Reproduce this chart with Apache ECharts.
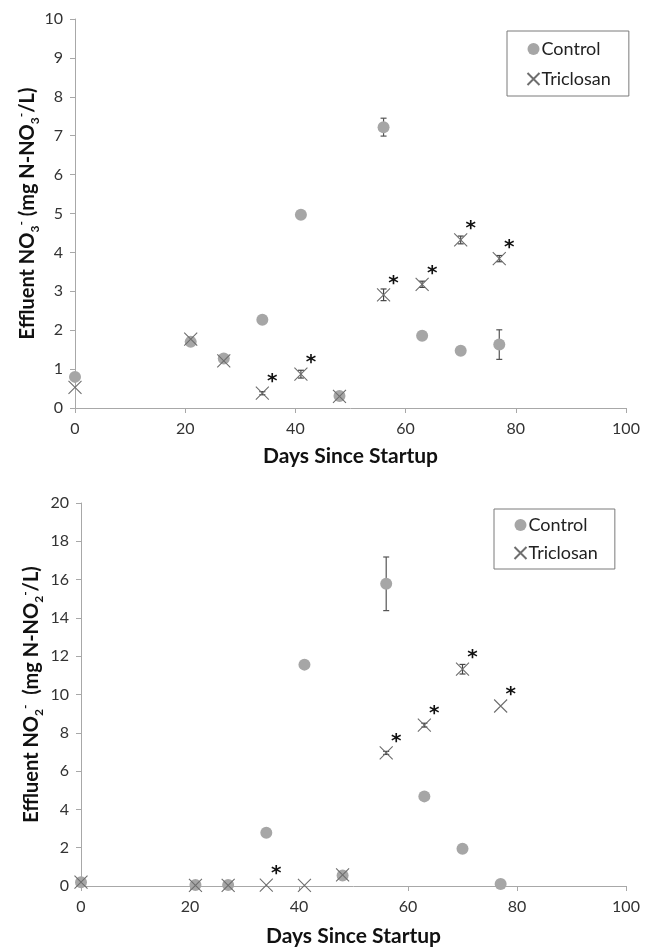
<!DOCTYPE html>
<html><head><meta charset="utf-8">
<script src="https://cdn.jsdelivr.net/npm/echarts@6/dist/echarts.min.js"></script>
<style>html,body{margin:0;padding:0;background:#fff}#c{width:649px;height:948px}</style>
</head><body><div id="c"></div>
<script>
// Data
var days = [0, 21, 27, 34, 41, 48, 56, 63, 70, 77];
var no3Control = [0.80, 1.70, 1.27, 2.27, 4.97, 0.31, 7.22, 1.86, 1.47, 1.63];
var no3ControlErr = [0, 0, 0, 0, 0, 0, 0.23, 0, 0, 0.38];
var no3Triclosan = [0.53, 1.77, 1.21, 0.38, 0.87, 0.30, 2.91, 3.18, 4.32, 3.84];
var no3TriclosanErr = [0, 0, 0, 0.04, 0.10, 0, 0.15, 0.08, 0.10, 0.08];
var no3Sig = [0, 0, 0, 1, 1, 0, 1, 1, 1, 1];

var no2Control = [0.20, 0.05, 0.05, 2.78, 11.56, 0.55, 15.78, 4.68, 1.95, 0.10];
var no2ControlErr = [0, 0, 0, 0, 0, 0, 1.40, 0, 0, 0];
var no2Triclosan = [0.20, 0.03, 0.03, 0.05, 0.03, 0.58, 6.95, 8.40, 11.32, 9.40];
var no2TriclosanErr = [0, 0, 0, 0, 0, 0, 0.08, 0.10, 0.25, 0];
var no2Sig = [0, 0, 0, 1, 0, 0, 1, 1, 1, 1];

var xTicks = [0, 20, 40, 60, 80, 100];

var FONT = 'Lato, "Open Sans", sans-serif';
var XPATH = 'path://M0,0L10,10M10,0L0,10';

function pairs(xs, ys) { return xs.map(function (x, i) { return [x, ys[i]]; }); }
function triples(xs, ys, es) { return xs.map(function (x, i) { return [x, ys[i], es[i]]; }); }
function sigPts(xs, ys, s) { var r = []; xs.forEach(function (x, i) { if (s[i]) r.push([x, ys[i]]); }); return r; }

function errRender(color) {
  return function (params, api) {
    var e = api.value(2);
    if (!e) return null;
    var x = api.value(0), y = api.value(1);
    var hi = api.coord([x, y + e]), lo = api.coord([x, y - e]);
    var w = 3;
    var st = { stroke: color, lineWidth: 1.2 };
    return { type: 'group', children: [
      { type: 'line', shape: { x1: hi[0], y1: hi[1], x2: lo[0], y2: lo[1] }, style: st },
      { type: 'line', shape: { x1: hi[0] - w, y1: hi[1], x2: hi[0] + w, y2: hi[1] }, style: st },
      { type: 'line', shape: { x1: lo[0] - w, y1: lo[1], x2: lo[0] + w, y2: lo[1] }, style: st }
    ]};
  };
}

function starRender(params, api) {
  var p = api.coord([api.value(0), api.value(1)]);
  return { type: 'text', x: p[0] + 10, y: p[1] - 11,
    style: { text: '*', fontFamily: '"DejaVu Sans", sans-serif', fontSize: 20, fontWeight: 'bold', fill: '#111',
      align: 'center', verticalAlign: 'middle' } };
}

var richY = {
  b: { fontSize: 20, fontWeight: 'bold', fontFamily: FONT, color: '#111', lineHeight: 26, verticalAlign: 'middle' },
  sub: { fontSize: 12, fontWeight: 'bold', fontFamily: FONT, color: '#111', lineHeight: 26, verticalAlign: 'bottom' },
  sup: { fontSize: 12, fontWeight: 'bold', fontFamily: FONT, color: '#111', lineHeight: 26, verticalAlign: 'top' }
};

function xAxis(gi) {
  return {
    gridIndex: gi, type: 'value', min: 0, max: 100, interval: 20,
    name: 'Days Since Startup', nameLocation: 'middle', nameGap: gi === 0 ? 38 : 40,
    nameMoveOverlap: false,
    nameTextStyle: { fontFamily: FONT, fontSize: 21, fontWeight: 'bold', color: '#111' },
    axisLine: { lineStyle: { color: '#a8a8a8', width: 1 } },
    axisTick: { show: true, inside: false, length: 5, lineStyle: { color: '#a8a8a8' } },
    axisLabel: { fontFamily: FONT, fontSize: 16, color: '#333', margin: 13,
      formatter: function (v) { return xTicks.indexOf(v) >= 0 ? String(v) : ''; } },
    splitLine: { show: false }
  };
}
function yAxis(gi, max, interval, name, gap) {
  return {
    gridIndex: gi, type: 'value', min: 0, max: max, interval: interval,
    name: name, nameLocation: 'middle', nameGap: gap, nameRotate: 90,
    nameMoveOverlap: false,
    nameTextStyle: { rich: richY },
    axisLine: { show: true, lineStyle: { color: '#a8a8a8', width: 1 } },
    axisTick: { show: true, inside: false, length: 5, lineStyle: { color: '#a8a8a8' } },
    axisLabel: { fontFamily: FONT, fontSize: 16, color: '#333', margin: 12 },
    splitLine: { show: false }
  };
}

function seriesFor(gi, ctrl, ctrlErr, tric, tricErr, sig) {
  return [
    { type: 'custom', xAxisIndex: gi, yAxisIndex: gi, renderItem: errRender('#555'),
      data: triples(days, ctrl, ctrlErr), z: 3, silent: true },
    { name: 'Control', type: 'scatter', xAxisIndex: gi, yAxisIndex: gi, symbol: 'circle', symbolSize: 12,
      itemStyle: { color: '#a6a6a6', opacity: 1 }, data: pairs(days, ctrl), z: 4 },
    { type: 'custom', xAxisIndex: gi, yAxisIndex: gi, renderItem: errRender('#444'),
      data: triples(days, tric, tricErr), z: 5, silent: true },
    { name: 'Triclosan', type: 'scatter', xAxisIndex: gi, yAxisIndex: gi, symbol: XPATH, symbolSize: 13,
      itemStyle: { color: 'none', borderColor: '#6e6e6e', borderWidth: 1.1, opacity: 1 }, data: pairs(days, tric), z: 6 },
    { type: 'custom', xAxisIndex: gi, yAxisIndex: gi, renderItem: starRender, silent: true,
      data: sigPts(days, tric, sig), z: 7 }
  ];
}

var chart = echarts.init(document.getElementById('c'), null, { renderer: 'canvas' });
chart.setOption({
  backgroundColor: '#ffffff',
  animation: false,
  grid: [
    { left: 75, top: 19, width: 551, height: 389 },
    { left: 81, top: 503, width: 545, height: 384 }
  ],
  xAxis: [xAxis(0), xAxis(1)],
  yAxis: [
    yAxis(0, 10, 1, '{b|Effluent NO}{sub|3}{sup|-}{b| (mg N-NO}{sub|3}{sup|-}{b|/L)}', 34),
    yAxis(1, 20, 2, '{b|Effluent NO}{sub|2}{sup|-}{b|  (mg N-NO}{sub|2}{sup|-}{b|/L)}', 36)
  ],
  legend: [
    { data: [{ name: 'Control', icon: 'circle' }, { name: 'Triclosan', icon: XPATH }],
      orient: 'vertical', left: 507, top: 31,
      padding: [9, 18, 8, 18], itemGap: 12, itemWidth: 12, itemHeight: 12,
      borderColor: '#7a7a7a', borderWidth: 1, backgroundColor: '#fff',
      textStyle: { fontFamily: FONT, fontSize: 18, color: '#222', padding: [0, 0, 0, -3] } },
    { data: [{ name: 'Control', icon: 'circle' }, { name: 'Triclosan', icon: XPATH }],
      orient: 'vertical', left: 494, top: 509,
      padding: [7, 17, 7, 18], itemGap: 10, itemWidth: 12, itemHeight: 12,
      borderColor: '#7a7a7a', borderWidth: 1, backgroundColor: '#fff',
      textStyle: { fontFamily: FONT, fontSize: 18, color: '#222', padding: [0, 0, 0, -3] } }
  ],
  series: seriesFor(0, no3Control, no3ControlErr, no3Triclosan, no3TriclosanErr, no3Sig)
    .concat(seriesFor(1, no2Control, no2ControlErr, no2Triclosan, no2TriclosanErr, no2Sig))
});
</script>
</body></html>
